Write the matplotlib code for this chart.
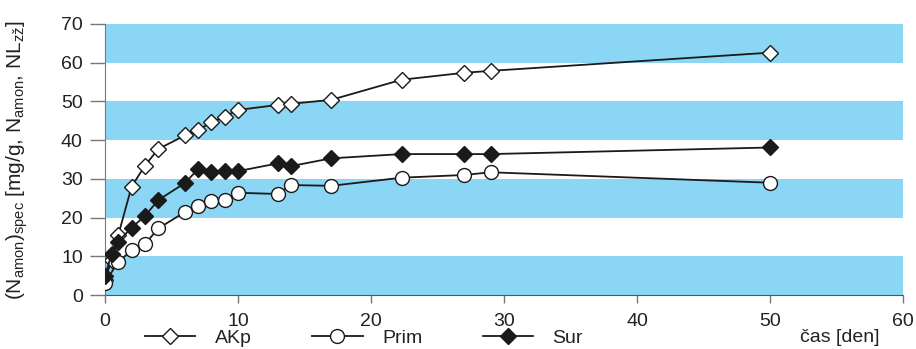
import matplotlib
matplotlib.use("Agg")
import matplotlib.pyplot as plt

plt.rcParams['font.family'] = ['Liberation Sans', 'DejaVu Sans']
plt.rcParams['mathtext.fontset'] = 'custom'
plt.rcParams['mathtext.rm'] = 'Liberation Sans'
plt.rcParams['mathtext.it'] = 'Liberation Sans:italic'

# Data
akp_x = [0, 0.5, 1, 2, 3, 4, 6, 7, 8, 9, 10, 13, 14, 17, 22.3, 27, 29, 50]
akp_y = [4.0, 9.0, 15.5, 28.0, 33.4, 37.7, 41.2, 42.6, 44.6, 46.1, 47.8, 49.1, 49.4, 50.4, 55.6, 57.4, 57.9, 62.6]

prim_x = [0, 1, 2, 3, 4, 6, 7, 8, 9, 10, 13, 14, 17, 22.3, 27, 29, 50]
prim_y = [3.2, 8.6, 11.5, 13.1, 17.2, 21.4, 23.0, 24.3, 24.5, 26.4, 26.1, 28.4, 28.2, 30.3, 31.0, 31.7, 29.0]

sur_x = [0, 0.5, 1, 2, 3, 4, 6, 7, 8, 9, 10, 13, 14, 17, 22.3, 27, 29, 50]
sur_y = [4.9, 10.6, 13.8, 17.4, 20.4, 24.5, 28.9, 32.5, 31.7, 32.0, 32.0, 34.0, 33.3, 35.3, 36.4, 36.4, 36.4, 38.1]

series_names = ["AKp", "Prim", "Sur"]
bands = [(0, 10), (20, 30), (40, 50), (60, 70)]
x_ticks = [0, 10, 20, 30, 40, 50, 60]
y_ticks = [0, 10, 20, 30, 40, 50, 60, 70]

fig = plt.figure(figsize=(9.16, 3.49), dpi=100)
ax = fig.add_axes([105/916, 1-295/349, (903-105)/916, (295-24)/349])

band_color = '#8AD6F4'
for lo, hi in bands:
    ax.axhspan(lo, hi, color=band_color, lw=0, zorder=0)

lw = 1.3
ms = 10
h1, = ax.plot(akp_x, akp_y, '-', color='#1a1a1a', lw=lw, marker='D', ms=ms*0.85,
              mfc='white', mec='#1a1a1a', mew=1.0, zorder=3, label=series_names[0])
h2, = ax.plot(prim_x, prim_y, '-', color='#1a1a1a', lw=lw, marker='o', ms=ms,
              mfc='white', mec='#1a1a1a', mew=1.0, zorder=4, label=series_names[1])
h3, = ax.plot(sur_x, sur_y, '-', color='#1a1a1a', lw=lw, marker='D', ms=ms*0.85,
              mfc='#1a1a1a', mec='#1a1a1a', mew=1.0, zorder=5, label=series_names[2])

ax.set_xlim(0, 60)
ax.set_ylim(0, 70)
ax.set_xticks(x_ticks)
ax.set_yticks(y_ticks)
ax.tick_params(axis='y', labelsize=14, length=11, width=1, color='#777777',
               labelcolor='#222222', pad=5)
ax.tick_params(axis='x', labelsize=14, length=6, width=1, color='#777777',
               labelcolor='#222222', pad=7)
for s in ['top', 'right']:
    ax.spines[s].set_visible(False)
ax.spines['left'].set_color('#777777')
ax.spines['bottom'].set_color('#555555')
ax.set_axisbelow(False)

fig.text(17/916, 1-160/349,
         r"(N$_{\rm amon}$)$_{\rm spec}$ [mg/g, N$_{\rm amon}$, NL$_{\rm zž}$]",
         fontsize=15, color='#222222', rotation=90, ha='center', va='center')

fig.text(840/916, 1-338/349, "čas [den]", fontsize=14, color='#222222',
         ha='center', va='center')

leg = fig.legend(handles=[h1, h2, h3], loc='center', ncol=3,
                 bbox_to_anchor=(364/916, 1-338/349), frameon=False,
                 fontsize=14, handlelength=2.6, columnspacing=3.1,
                 handletextpad=1.0, borderaxespad=0, borderpad=0)
for t in leg.get_texts():
    t.set_color('#222222')

fig.savefig("out.png", dpi=100)
